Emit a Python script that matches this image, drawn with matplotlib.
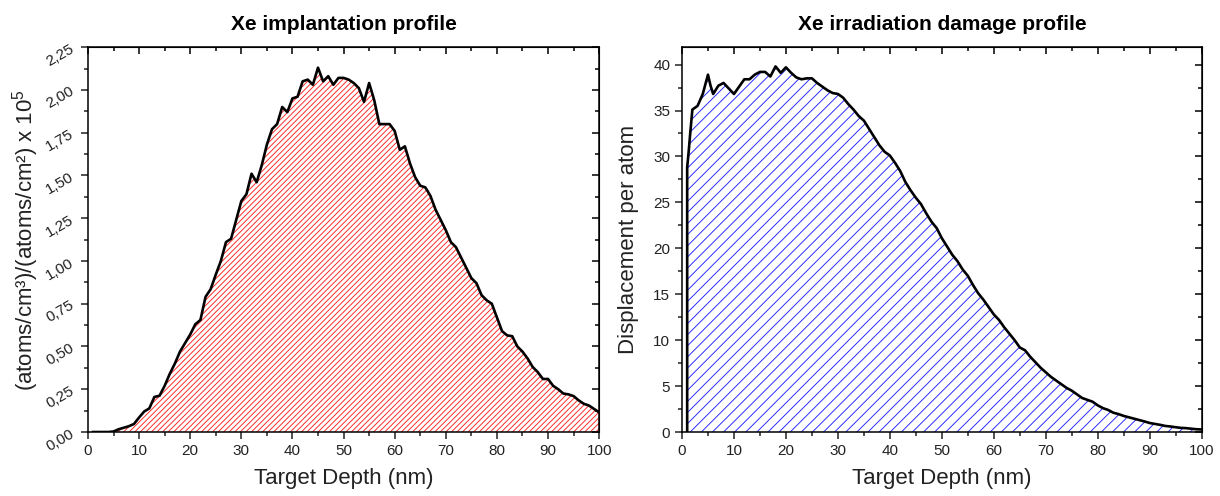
import numpy as np
import matplotlib
matplotlib.use("Agg")
import matplotlib.pyplot as plt
from matplotlib.ticker import MultipleLocator, FuncFormatter

plt.rcParams['font.family'] = ['Liberation Sans', 'DejaVu Sans']
plt.rcParams['mathtext.fontset'] = 'custom'
plt.rcParams['mathtext.rm'] = 'Liberation Sans'
plt.rcParams['hatch.linewidth'] = 0.65

# Implantation profile (depth in nm, concentration x 1e5)
depth_impl = np.arange(1, 101)
conc_impl = [
    0.0, 0.0, 0.0, 0.0, 0.003, 0.016, 0.025, 0.034, 0.047, 0.085,
    0.12, 0.138, 0.205, 0.212, 0.27, 0.34, 0.40, 0.47, 0.52, 0.57,
    0.63, 0.655, 0.79, 0.835, 0.92, 1.00, 1.11, 1.13, 1.24, 1.35,
    1.39, 1.51, 1.46, 1.56, 1.68, 1.77, 1.80, 1.90, 1.87, 1.95,
    1.96, 2.05, 2.06, 2.03, 2.13, 2.05, 2.08, 2.03, 2.07, 2.07,
    2.06, 2.04, 2.01, 1.93, 2.04, 1.94, 1.80, 1.80, 1.80, 1.76,
    1.65, 1.67, 1.57, 1.49, 1.44, 1.43, 1.38, 1.30, 1.24, 1.18,
    1.11, 1.08, 1.02, 0.96, 0.90, 0.87, 0.80, 0.77, 0.75, 0.67,
    0.59, 0.565, 0.56, 0.50, 0.47, 0.43, 0.38, 0.35, 0.31, 0.31,
    0.27, 0.25, 0.225, 0.22, 0.21, 0.185, 0.165, 0.155, 0.135, 0.115,
]

# Damage profile (depth in nm, dpa)
depth_dpa = [1, 1, 1.3, 1.6, 2, 3, 4, 5, 5.5, 6, 7, 8, 9, 10] + list(range(11, 101))
dpa = [
    0.0, 28.8, 30.6, 32.6, 35.1, 35.5, 36.8, 38.9, 37.7, 36.8, 37.7, 38.0, 37.4, 36.8,
    37.6, 38.4, 38.4, 38.9, 39.2, 39.2, 38.7, 39.8, 39.1, 39.7,
    39.1, 38.6, 38.4, 38.5, 38.5, 38.0, 37.6, 37.2, 36.9, 36.8,
    36.4, 35.7, 35.1, 34.4, 33.9, 33.0, 32.1, 31.2, 30.5, 30.1,
    29.3, 28.4, 27.2, 26.3, 25.5, 24.8, 23.8, 22.9, 22.2, 21.1,
    20.2, 19.3, 18.6, 17.7, 17.0, 16.0, 15.1, 14.4, 13.6, 12.8,
    12.2, 11.4, 10.7, 10.0, 9.2, 8.9, 8.2, 7.6, 7.0, 6.5,
    6.0, 5.6, 5.2, 4.8, 4.5, 4.1, 3.7, 3.5, 3.3, 2.9,
    2.6, 2.4, 2.1, 1.95, 1.75, 1.6, 1.45, 1.3, 1.15, 0.98,
    0.88, 0.78, 0.66, 0.60, 0.52, 0.45, 0.42, 0.36, 0.30, 0.28,
]

fig = plt.figure(figsize=(12.2, 4.96), dpi=100)
ax1 = fig.add_axes([0.0721, 0.129, 0.419, 0.776])
ax2 = fig.add_axes([0.559, 0.129, 0.426, 0.776])


def style_axes(ax):
    for sp in ax.spines.values():
        sp.set_linewidth(1.1)
    ax.tick_params(which='both', direction='out', top=False, right=False,
                   width=1.1, labelsize=11, colors='#222222')
    ax.tick_params(which='major', length=5)
    ax.tick_params(which='minor', length=3)
    ax.xaxis.set_major_locator(MultipleLocator(10))
    ax.xaxis.set_minor_locator(MultipleLocator(5))
    ax.set_xlim(0, 100)
    ax.set_xlabel('Target Depth (nm)', fontsize=16, labelpad=7, color='#222222')


# Implantation
ax1.fill_between(depth_impl, conc_impl, 0, facecolor='none', edgecolor='#ff2020',
                 hatch='//////', linewidth=0)
ax1.plot(depth_impl, conc_impl, color='black', linewidth=1.9)
style_axes(ax1)
ax1.set_ylim(0, 2.25)
ax1.yaxis.set_major_locator(MultipleLocator(0.25))
ax1.yaxis.set_minor_locator(MultipleLocator(0.125))
ax1.yaxis.set_major_formatter(FuncFormatter(lambda v, p: f'{v:.2f}'.replace('.', ',')))
for lbl in ax1.get_yticklabels():
    lbl.set_rotation(30)
ax1.set_ylabel('(atoms/cm\u00b3)/(atoms/cm\u00b2) x 10$^5$', fontsize=16, labelpad=2,
               color='#222222')
ax1.set_title('Xe implantation profile', fontsize=15, fontweight='bold', pad=12)

# Damage
ax2.fill_between(depth_dpa, dpa, 0, facecolor='none', edgecolor='#2020ff',
                 hatch='///', linewidth=0)
ax2.plot(depth_dpa, dpa, color='black', linewidth=1.9)
style_axes(ax2)
ax2.set_ylim(0, 41.9)
ax2.yaxis.set_major_locator(MultipleLocator(5))
ax2.yaxis.set_minor_locator(MultipleLocator(2.5))
ax2.set_ylabel('Displacement per atom', fontsize=16, labelpad=10, color='#222222')
ax2.set_title('Xe irradiation damage profile', fontsize=15, fontweight='bold', pad=12)

# inward ticks on top and right, like the Origin frame
for ax in (ax1, ax2):
    tx = ax.secondary_xaxis('top')
    tx.set_xticks(ax.get_xticks())
    tx.xaxis.set_minor_locator(MultipleLocator(5))
    tx.tick_params(which='both', direction='in', labeltop=False, width=1.1)
    tx.tick_params(which='major', length=5)
    tx.tick_params(which='minor', length=3)
    ty = ax.secondary_yaxis('right')
    ty.set_yticks(ax.get_yticks())
    ty.yaxis.set_minor_locator(ax.yaxis.get_minor_locator())
    ty.tick_params(which='both', direction='in', labelright=False, width=1.1)
    ty.tick_params(which='major', length=5)
    ty.tick_params(which='minor', length=3)

fig.savefig('out.png', dpi=100)
